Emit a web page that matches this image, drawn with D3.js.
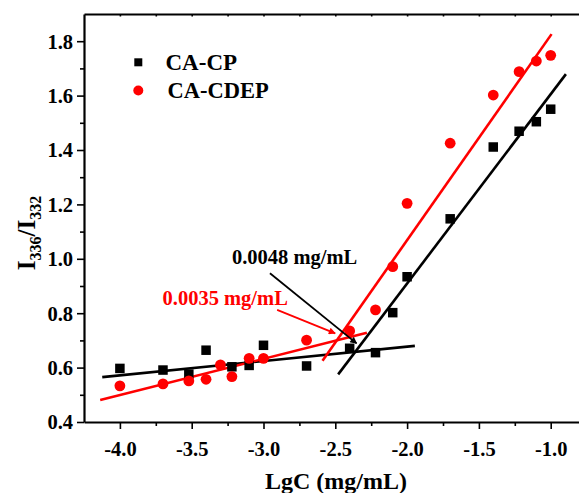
<!DOCTYPE html>
<html>
<head>
<meta charset="utf-8">
<script src="https://cdn.jsdelivr.net/npm/d3@7"></script>
<style>
  html, body { margin: 0; padding: 0; background: #fff; }
  svg { display: block; font-family: "Liberation Serif", "Times New Roman", serif; font-weight: bold; }
</style>
</head>
<body>
<svg id="chart" width="579" height="493"></svg>
<script>
// ---------------- data ----------------
const cpX   = [-4.0, -3.7, -3.52, -3.4, -3.22, -3.1, -3.0, -2.7, -2.4, -2.22, -2.1, -2.0, -1.7, -1.4, -1.22, -1.1, -1.0];
const cpY   = [0.597, 0.591, 0.576, 0.664, 0.603, 0.608, 0.682, 0.606, 0.671, 0.655, 0.802, 0.934, 1.147, 1.411, 1.469, 1.504, 1.550];
const cdepX = [-4.0, -3.7, -3.52, -3.4, -3.3, -3.22, -3.1, -3.0, -2.7, -2.4, -2.22, -2.1, -2.0, -1.7, -1.4, -1.22, -1.1, -1.0];
const cdepY = [0.533, 0.540, 0.551, 0.557, 0.610, 0.567, 0.634, 0.634, 0.701, 0.735, 0.812, 0.971, 1.204, 1.425, 1.602, 1.688, 1.727, 1.748];

// fitted lines (endpoints): [x1, y1, x2, y2]
const cpLowFit    = [-4.123, 0.565, -1.946, 0.680];
const cpHighFit   = [-2.480, 0.575, -0.894, 1.679];
const cdepLowFit  = [-4.137, 0.481, -2.280, 0.728];
const cdepHighFit = [-2.589, 0.625, -0.994, 1.826];

const seriesNames = ["CA-CP", "CA-CDEP"];
const annotTexts  = ["0.0048 mg/mL", "0.0035 mg/mL"];
// annotation anchors in data units: text [x, y], arrow [x1, y1, x2, y2]
const annotCP   = { text: [-3.22, 0.981], arrow: [-2.955, 0.947, -2.352, 0.689] };
const annotCDEP = { text: [-3.703, 0.830], arrow: [-2.905, 0.812, -2.501, 0.726] };

const xTicks = [-4.0, -3.5, -3.0, -2.5, -2.0, -1.5, -1.0];
const xMinor = [-3.75, -3.25, -2.75, -2.25, -1.75, -1.25, -0.75];
const yTicks = [0.4, 0.6, 0.8, 1.0, 1.2, 1.4, 1.6, 1.8];
const yMinor = [0.5, 0.7, 0.9, 1.1, 1.3, 1.5, 1.7];

// ---------------- layout ----------------
const svg = d3.select("#chart");
const RED = "#ff0000", BLACK = "#000000";
const x = d3.scaleLinear().domain([-4.25, -0.75]).range([84, 586.6]);
const y = d3.scaleLinear().domain([0.4, 1.9]).range([422, 14]);

const defs = svg.append("defs");
[["arrBlack", BLACK], ["arrRed", RED]].forEach(([id, c]) => {
  defs.append("marker").attr("id", id).attr("viewBox", "0 0 10 10")
    .attr("refX", 9).attr("refY", 5).attr("markerWidth", 9).attr("markerHeight", 7)
    .attr("markerUnits", "userSpaceOnUse").attr("orient", "auto")
    .append("path").attr("d", "M0,0 L10,5 L0,10 z").attr("fill", c);
});

const fmt = v => d3.format(".1f")(v).replace("\u2212", "-");

// x axis (bottom)
const gx = svg.append("g").attr("transform", `translate(0,${y(0.4)})`)
  .call(d3.axisBottom(x).tickValues(xTicks).tickFormat(fmt).tickSize(7).tickSizeOuter(0));
svg.append("g").attr("transform", `translate(0,${y(0.4)})`)
  .call(d3.axisBottom(x).tickValues(xMinor).tickFormat("").tickSize(4).tickSizeOuter(0))
  .select(".domain").remove();
// top axis
svg.append("g").attr("transform", `translate(0,${y(1.9)})`)
  .call(d3.axisBottom(x).tickValues(xTicks.concat(xMinor)).tickFormat("").tickSize(2.5).tickSizeOuter(0));
// y axis
const gy = svg.append("g").attr("transform", `translate(${x(-4.25)},0)`)
  .call(d3.axisLeft(y).tickValues(yTicks).tickFormat(fmt).tickSize(7).tickSizeOuter(0));
svg.append("g").attr("transform", `translate(${x(-4.25)},0)`)
  .call(d3.axisLeft(y).tickValues(yMinor).tickFormat("").tickSize(4).tickSizeOuter(0))
  .select(".domain").remove();

svg.selectAll(".domain").attr("stroke", BLACK).attr("stroke-width", 2.2);
svg.selectAll(".tick line").attr("stroke", BLACK).attr("stroke-width", 1.6);
svg.selectAll(".tick text").attr("font-family", "Liberation Serif").attr("font-weight", "bold")
  .attr("font-size", 20.5).attr("fill", BLACK);
gx.selectAll(".tick text").attr("dy", "1.15em");
gy.selectAll(".tick text").attr("x", -11).attr("dy", "0.34em");

// axis titles
svg.append("text").attr("x", 336).attr("y", 489).attr("text-anchor", "middle")
  .attr("font-size", 24).text("LgC (mg/mL)");
const yt = svg.append("text").attr("transform", "translate(35,233) rotate(-90)")
  .attr("text-anchor", "middle").attr("font-size", 25);
yt.append("tspan").text("I");
yt.append("tspan").attr("font-size", 16).attr("dy", 6).text("336");
yt.append("tspan").attr("dy", -6).text("/I");
yt.append("tspan").attr("font-size", 16).attr("dy", 6).text("332");

// fit lines
const fits = [[cpLowFit, BLACK], [cpHighFit, BLACK], [cdepLowFit, RED], [cdepHighFit, RED]];
svg.append("g").selectAll("line").data(fits).join("line")
  .attr("x1", d => x(d[0][0])).attr("y1", d => y(d[0][1]))
  .attr("x2", d => x(d[0][2])).attr("y2", d => y(d[0][3]))
  .attr("stroke", d => d[1]).attr("stroke-width", 2.6);

// points
const cp = cpX.map((v, i) => [v, cpY[i]]);
const cdep = cdepX.map((v, i) => [v, cdepY[i]]);
const S = 9.5;
svg.append("g").selectAll("rect").data(cp).join("rect")
  .attr("x", d => x(d[0]) - S / 2).attr("y", d => y(d[1]) - S / 2)
  .attr("width", S).attr("height", S).attr("fill", BLACK);
svg.append("g").selectAll("circle").data(cdep).join("circle")
  .attr("cx", d => x(d[0])).attr("cy", d => y(d[1])).attr("r", 5.4).attr("fill", RED);

// legend
svg.append("rect").attr("x", 138.3 - 4).attr("y", 62.3 - 4).attr("width", 8).attr("height", 8).attr("fill", BLACK);
svg.append("circle").attr("cx", 138.3).attr("cy", 90.5).attr("r", 5).attr("fill", RED);
svg.append("text").attr("x", 165.5).attr("y", 70).attr("font-size", 23).text(seriesNames[0]);
svg.append("text").attr("x", 167.5).attr("y", 98).attr("font-size", 22.5).text(seriesNames[1]);

// annotations
[[annotCP, annotTexts[0], BLACK, "arrBlack"], [annotCDEP, annotTexts[1], RED, "arrRed"]].forEach(([a, t, c, m]) => {
  svg.append("text").attr("x", x(a.text[0])).attr("y", y(a.text[1]))
    .attr("font-size", 20.5).attr("fill", c).text(t);
  svg.append("line")
    .attr("x1", x(a.arrow[0])).attr("y1", y(a.arrow[1]))
    .attr("x2", x(a.arrow[2])).attr("y2", y(a.arrow[3]))
    .attr("stroke", c).attr("stroke-width", 1.8).attr("marker-end", `url(#${m})`);
});
</script>
</body>
</html>
